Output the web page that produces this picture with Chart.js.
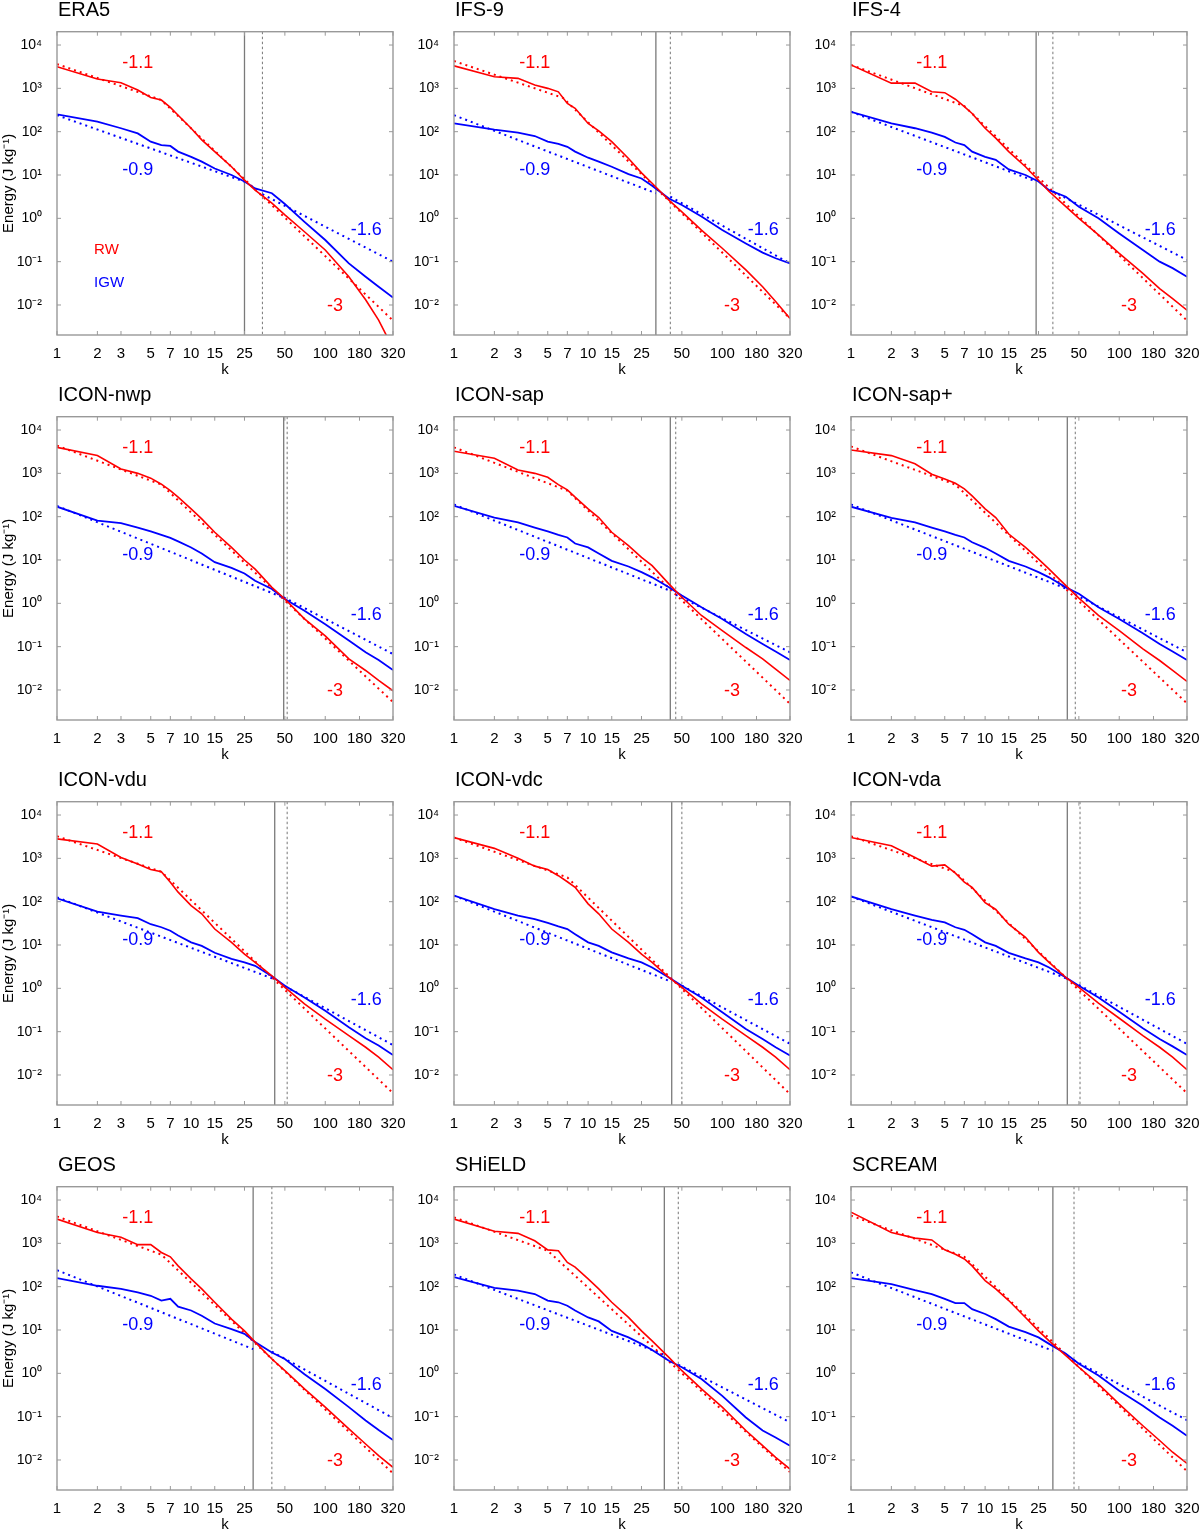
<!DOCTYPE html>
<html>
<head>
<meta charset="utf-8">
<script src="https://cdn.jsdelivr.net/npm/chart.js@4.4.1/dist/chart.umd.min.js"></script>
<style>
  html, body { margin: 0; padding: 0; background: #fff; overflow: hidden; }
  #grid { position: relative; width: 1200px; height: 1530px; overflow: hidden; }
  #grid canvas { position: absolute; }
</style>
</head>
<body>
<div id="grid"></div>
<script>
const K = [1, 2, 3, 4, 5, 6, 7, 8, 10, 12, 15, 20, 25, 30, 40, 50, 70, 100, 150, 200, 250, 320];
const X_TICKS = [1, 2, 3, 5, 7, 10, 15, 25, 50, 100, 180, 320];
const Y_TICKS = [1e-2, 1e-1, 1, 10, 100, 1000, 10000];

const TITLES = ["ERA5", "IFS-9", "IFS-4", "ICON-nwp", "ICON-sap", "ICON-sap+",
  "ICON-vdu", "ICON-vdc", "ICON-vda", "GEOS", "SHiELD", "SCREAM"];

// rotational (RW) and inertia-gravity wave (IGW) energy, J/kg
const ERA5_RW = [3160, 1640, 1350, 912, 617, 537, 363, 240, 120, 64.6, 34.7, 15.5, 7.59, 4.47, 2.24, 1.2, 0.49, 0.186, 0.0447, 0.0132, 0.00447, 0.001];
const ERA5_IGW = [251, 170, 120, 91.2, 58.9, 49, 46.8, 34.7, 26.3, 20.4, 14.1, 10, 7.08, 4.9, 3.8, 2.14, 0.832, 0.316, 0.0912, 0.0447, 0.0263, 0.0148];
const IFS9_RW = [3310, 1860, 1700, 1200, 1000, 832, 447, 347, 155, 105, 58.9, 24, 11.2, 6.46, 2.63, 1.41, 0.537, 0.204, 0.0646, 0.0263, 0.012, 0.0049];
const IFS9_IGW = [155, 112, 95.5, 79.4, 58.9, 52.5, 44.7, 34.7, 25.1, 20.4, 15.5, 10.5, 8.32, 5.62, 2.88, 2.04, 1.1, 0.537, 0.263, 0.162, 0.12, 0.0912];
const IFS4_RW = [3470, 1320, 1320, 832, 794, 562, 380, 263, 120, 70.8, 34.7, 15.5, 7.59, 4.17, 1.86, 1.0, 0.417, 0.155, 0.0537, 0.024, 0.0141, 0.00759];
const IFS4_IGW = [288, 155, 120, 95.5, 75.9, 56.2, 49, 34.7, 26.3, 22.4, 13.5, 10, 7.08, 4.47, 3.16, 1.86, 1.0, 0.447, 0.186, 0.1, 0.0708, 0.0447];
const NWP_RW = [3980, 2570, 1260, 1000, 776, 562, 398, 282, 151, 89.1, 43.7, 19.5, 10, 6.17, 2.34, 1.26, 0.437, 0.178, 0.0525, 0.0282, 0.0166, 0.00955];
const NWP_IGW = [170, 81.3, 70.8, 56.2, 45.7, 38, 32.4, 26.9, 19.5, 14.1, 8.91, 6.61, 4.9, 3.31, 2.14, 1.26, 0.676, 0.331, 0.138, 0.0741, 0.049, 0.0288];
const SAP_RW = [3240, 2240, 1200, 1000, 813, 550, 417, 282, 151, 95.5, 43.7, 21.4, 11.5, 7.41, 2.82, 1.38, 0.525, 0.234, 0.0955, 0.0525, 0.0302, 0.0166];
const SAP_IGW = [178, 95.5, 74.1, 56.2, 45.7, 38, 33.1, 24, 19.5, 14.1, 9.55, 7.08, 5.25, 3.98, 2.34, 1.51, 0.813, 0.437, 0.195, 0.115, 0.0776, 0.049];
const SAPP_RW = [3470, 2570, 1660, 955, 741, 589, 437, 302, 151, 95.5, 39.8, 19.5, 10.5, 6.17, 2.57, 1.32, 0.525, 0.234, 0.0891, 0.0479, 0.0282, 0.0158];
const SAPP_IGW = [170, 93.3, 74.1, 56.2, 45.7, 38, 33.1, 25.7, 19.1, 14.1, 9.55, 7.08, 5.25, 3.98, 2.34, 1.66, 0.813, 0.437, 0.204, 0.115, 0.0776, 0.049];
const VDU_RW = [2820, 2140, 1050, 741, 550, 490, 282, 166, 81.3, 52.5, 23.4, 11.5, 6.17, 3.98, 1.95, 1.05, 0.437, 0.195, 0.0813, 0.0437, 0.0257, 0.0132];
const VDU_IGW = [120, 58.9, 47.9, 41.7, 30.2, 25.7, 21.4, 16.6, 11.5, 9.55, 6.61, 4.79, 3.98, 3.31, 1.91, 1.15, 0.617, 0.302, 0.126, 0.0708, 0.0479, 0.0288];
const VDC_RW = [3020, 1700, 1000, 661, 550, 398, 288, 214, 89.1, 52.5, 23.4, 11.5, 6.17, 3.98, 1.78, 1.05, 0.437, 0.195, 0.0813, 0.0437, 0.0257, 0.0132];
const VDC_IGW = [138, 67.6, 47.9, 39.8, 32.4, 26.9, 23.4, 17.8, 11.5, 9.55, 6.76, 4.9, 3.98, 3.02, 1.78, 1.15, 0.617, 0.282, 0.115, 0.0676, 0.0437, 0.0282];
const VDA_RW = [3020, 1950, 1050, 661, 708, 457, 282, 214, 95.5, 66.1, 30.2, 15.1, 6.76, 3.98, 1.78, 1.05, 0.457, 0.204, 0.0813, 0.0437, 0.0257, 0.0132];
const VDA_IGW = [132, 67.6, 47.9, 38, 33.1, 25.7, 22.4, 17.8, 11.5, 9.55, 6.61, 4.9, 3.98, 3.02, 1.78, 1.15, 0.617, 0.288, 0.12, 0.0676, 0.0457, 0.0288];
const GEOS_RW = [3630, 1780, 1380, 933, 933, 617, 490, 302, 151, 89.1, 43.7, 17.8, 9.55, 5.25, 2.14, 1.15, 0.437, 0.166, 0.0525, 0.0234, 0.0126, 0.00676];
const GEOS_IGW = [158, 105, 89.1, 74.1, 61.7, 47.9, 52.5, 34.7, 28.2, 21.4, 14.1, 10.5, 8.13, 5.25, 3.02, 2.14, 0.955, 0.437, 0.166, 0.0813, 0.049, 0.0288];
const SHIELD_RW = [3630, 1910, 1700, 1150, 708, 676, 363, 282, 151, 89.1, 43.7, 19.5, 9.55, 5.62, 2.34, 1.15, 0.437, 0.166, 0.0479, 0.0214, 0.0115, 0.00617];
const SHIELD_IGW = [166, 93.3, 81.3, 67.6, 47.9, 43.7, 36.3, 28.2, 19.5, 15.8, 9.55, 6.76, 4.79, 3.47, 1.95, 1.38, 0.741, 0.302, 0.0955, 0.0479, 0.0331, 0.0214];
const SCREAM_RW = [5250, 1780, 1320, 1200, 708, 562, 437, 302, 138, 89.1, 47.9, 19.5, 9.55, 5.62, 2.57, 1.38, 0.562, 0.195, 0.0617, 0.0282, 0.0151, 0.00832];
const SCREAM_IGW = [158, 115, 83.2, 67.6, 52.5, 41.7, 41.7, 30.2, 23.4, 17.8, 12, 8.91, 6.76, 4.79, 2.82, 1.66, 0.891, 0.398, 0.178, 0.0955, 0.0617, 0.0363];

// power-law fits, [k, E] end points (dotted lines)
const RW_FITS = [
  [[1, 3630], [6, 537], [320, 0.00437]],
  [[1, 4270], [6.5, 603], [320, 0.0049]],
  [[1, 3470], [7, 389], [320, 0.00437]],
  [[1, 4370], [6, 550], [320, 0.00525]],
  [[1, 3980], [7, 398], [320, 0.00479]],
  [[1, 4170], [6, 550], [320, 0.0049]],
  [[1, 3240], [6, 490], [320, 0.0038]],
  [[1, 3020], [7, 363], [320, 0.00363]],
  [[1, 3240], [6, 479], [320, 0.0038]],
  [[1, 4170], [6, 550], [320, 0.0049]],
  [[1, 3980], [5, 676], [320, 0.00525]],
  [[1, 4370], [7, 490], [320, 0.0055]]
];
const IGW_FITS_LOW = [
  [[1, 240], [25, 7.0]],
  [[1, 240], [32, 3.8]],
  [[1, 288], [24, 7.08]],
  [[1, 178], [48, 1.38]],
  [[1, 191], [41, 1.95]],
  [[1, 191], [41, 2.14]],
  [[1, 126], [41, 1.66]],
  [[1, 138], [42, 1.41]],
  [[1, 132], [41, 1.66]],
  [[1, 240], [29, 3.63]],
  [[1, 191], [37, 2.69]],
  [[1, 214], [32, 3.31]]
];
const IGW_FITS_HIGH = [
  [[34, 3.6], [320, 0.1]],
  [[41, 3.16], [320, 0.0912]],
  [[32, 4.17], [320, 0.11]],
  [[49, 1.38], [320, 0.0676]],
  [[45, 1.58], [320, 0.0741]],
  [[47, 1.58], [320, 0.0741]],
  [[50, 1.12], [320, 0.049]],
  [[50, 1.15], [320, 0.0525]],
  [[50, 1.2], [320, 0.0525]],
  [[40, 3.16], [320, 0.0933]],
  [[47, 1.58], [320, 0.0741]],
  [[46, 2.0], [320, 0.0832]]
];

// vertical markers: solid = crossover, dotted = second scale
const K_CROSS = [25, 32, 24, 49, 41, 41, 42, 42, 41, 29, 37, 32];
const K_DOT = [34, 41, 32, 52, 45, 47, 52, 50, 51, 40, 47, 46];

const SLOPE_TEXT = ["-1.1", "-0.9", "-1.6", "-3"];
const SLOPE_K = [4, 4, 202, 118];
const SLOPE_E = [4200, 14, 0.57, 0.0105];
const LEGEND_TEXT = ["RW", "IGW"];
const LEGEND_K = [1.89, 1.89];
const LEGEND_E = [0.2, 0.035];

const RW_LIST = [ERA5_RW, IFS9_RW, IFS4_RW, NWP_RW, SAP_RW, SAPP_RW, VDU_RW, VDC_RW, VDA_RW, GEOS_RW, SHIELD_RW, SCREAM_RW];
const IGW_LIST = [ERA5_IGW, IFS9_IGW, IFS4_IGW, NWP_IGW, SAP_IGW, SAPP_IGW, VDU_IGW, VDC_IGW, VDA_IGW, GEOS_IGW, SHIELD_IGW, SCREAM_IGW];

const FONT = '"Liberation Sans", Arial, Helvetica, sans-serif';
const RED = "#ff0000";
const BLUE = "#0000ff";
const FRAME = "#999999";

Chart.defaults.font.family = FONT;
Chart.defaults.color = "#000";

const SUP = { "-2": "\u207b\u00b2", "-1": "\u207b\u00b9", "0": "\u2070", "1": "\u00b9", "2": "\u00b2", "3": "\u00b3", "4": "\u2074" };

function label(ctx, txt, x, y, size, color, align) {
  ctx.font = size + "px " + FONT;
  ctx.fillStyle = color;
  ctx.textAlign = align || "center";
  ctx.textBaseline = "alphabetic";
  ctx.fillText(txt, x, y + size * 0.36);
}

const decor = {
  id: "decor",
  beforeDatasetsDraw(chart, args, opts) {
    const { ctx, chartArea: a, scales: { x } } = chart;
    ctx.save();
    let px = x.getPixelForValue(opts.kc);
    ctx.strokeStyle = "#7a7a7a";
    ctx.lineWidth = 1.3;
    ctx.beginPath(); ctx.moveTo(px, a.top); ctx.lineTo(px, a.bottom); ctx.stroke();
    px = x.getPixelForValue(opts.kd);
    ctx.strokeStyle = "#777";
    ctx.lineWidth = 1;
    ctx.setLineDash([2.5, 2.5]);
    ctx.beginPath(); ctx.moveTo(px, a.top); ctx.lineTo(px, a.bottom); ctx.stroke();
    ctx.restore();
  },
  afterDatasetsDraw(chart, args, opts) {
    const { ctx, chartArea: a, scales: { x, y } } = chart;
    ctx.save();
    // frame and inward ticks on all four sides
    ctx.strokeStyle = FRAME;
    ctx.lineWidth = 1.4;
    ctx.strokeRect(a.left, a.top, a.width, a.height);
    ctx.lineWidth = 1;
    ctx.beginPath();
    X_TICKS.forEach(v => {
      const px = x.getPixelForValue(v);
      ctx.moveTo(px, a.bottom); ctx.lineTo(px, a.bottom - 4);
      ctx.moveTo(px, a.top); ctx.lineTo(px, a.top + 4);
    });
    Y_TICKS.forEach(v => {
      const py = y.getPixelForValue(v);
      ctx.moveTo(a.left, py); ctx.lineTo(a.left + 4, py);
      ctx.moveTo(a.right, py); ctx.lineTo(a.right - 4, py);
    });
    ctx.stroke();

    SLOPE_TEXT.forEach((t, i) => {
      label(ctx, t, x.getPixelForValue(SLOPE_K[i]), y.getPixelForValue(SLOPE_E[i]), 18,
        (i === 0 || i === 3) ? RED : BLUE);
    });
    if (opts.legend) {
      LEGEND_TEXT.forEach((t, i) => {
        label(ctx, t, x.getPixelForValue(LEGEND_K[i]), y.getPixelForValue(LEGEND_E[i]), 15,
          i === 0 ? RED : BLUE, "left");
      });
    }
    ctx.restore();
  },
  afterDraw(chart, args, opts) {
    const { ctx, chartArea: a } = chart;
    ctx.save();
    ctx.font = "20px " + FONT;
    ctx.fillStyle = "#000";
    ctx.textAlign = "left";
    ctx.textBaseline = "alphabetic";
    ctx.fillText(opts.title, a.left + 1, 16);
    label(ctx, "k", (a.left + a.right) / 2, a.bottom + 34, 15, "#000");
    if (opts.yTitle) {
      ctx.translate(13, (a.top + a.bottom) / 2);
      ctx.rotate(-Math.PI / 2);
      ctx.font = "15px " + FONT;
      ctx.textAlign = "center";
      ctx.fillText("Energy (J kg\u207b\u00b9)", 0, 0);
    }
    ctx.restore();
  }
};

const grid = document.getElementById("grid");

TITLES.forEach((title, i) => {
  const col = i % 3, row = Math.floor(i / 3);
  const canvas = document.createElement("canvas");
  canvas.width = 412;
  canvas.height = 385;
  canvas.style.left = (col * 397) + "px";
  canvas.style.top = (row * 385) + "px";
  canvas.style.width = "412px";
  canvas.style.height = "385px";
  grid.appendChild(canvas);

  const pts = arr => K.map((k, j) => ({ x: k, y: arr[j] }));
  const fit = arr => arr.map(p => ({ x: p[0], y: p[1] }));

  new Chart(canvas, {
    type: "line",
    data: {
      datasets: [
        { data: pts(RW_LIST[i]), borderColor: RED, borderWidth: 1.6 },
        { data: pts(IGW_LIST[i]), borderColor: BLUE, borderWidth: 1.8 },
        { data: fit(RW_FITS[i]), borderColor: RED, borderWidth: 2, borderDash: [2, 4] },
        { data: fit(IGW_FITS_LOW[i]), borderColor: BLUE, borderWidth: 2, borderDash: [2, 4] },
        { data: fit(IGW_FITS_HIGH[i]), borderColor: BLUE, borderWidth: 2, borderDash: [2, 4] }
      ]
    },
    options: {
      responsive: false,
      animation: false,
      events: [],
      elements: { point: { radius: 0 }, line: { tension: 0, fill: false } },
      layout: { padding: { left: 0, right: 19, top: 31.7, bottom: 0 } },
      plugins: {
        legend: { display: false },
        tooltip: { enabled: false },
        decor: { title: title, kc: K_CROSS[i], kd: K_DOT[i], legend: i === 0, yTitle: col === 0 }
      },
      scales: {
        x: {
          type: "logarithmic",
          min: 1,
          max: 320,
          grid: { display: false },
          border: { display: false },
          ticks: { autoSkip: false, maxRotation: 0, padding: 2, font: { size: 15 }, callback: v => String(v) },
          afterBuildTicks: s => { s.ticks = X_TICKS.map(v => ({ value: v })); },
          afterFit: s => { s.height = 50; }
        },
        y: {
          type: "logarithmic",
          min: 0.00203,
          max: 20300,
          grid: { display: false },
          border: { display: false },
          ticks: {
            autoSkip: false, padding: 7, font: { size: 14 },
            callback: v => "10" + SUP[String(Math.round(Math.log10(v)))]
          },
          afterBuildTicks: s => { s.ticks = Y_TICKS.map(v => ({ value: v })); },
          afterFit: s => { s.width = 57; }
        }
      }
    },
    plugins: [decor]
  });
});
</script>
</body>
</html>
